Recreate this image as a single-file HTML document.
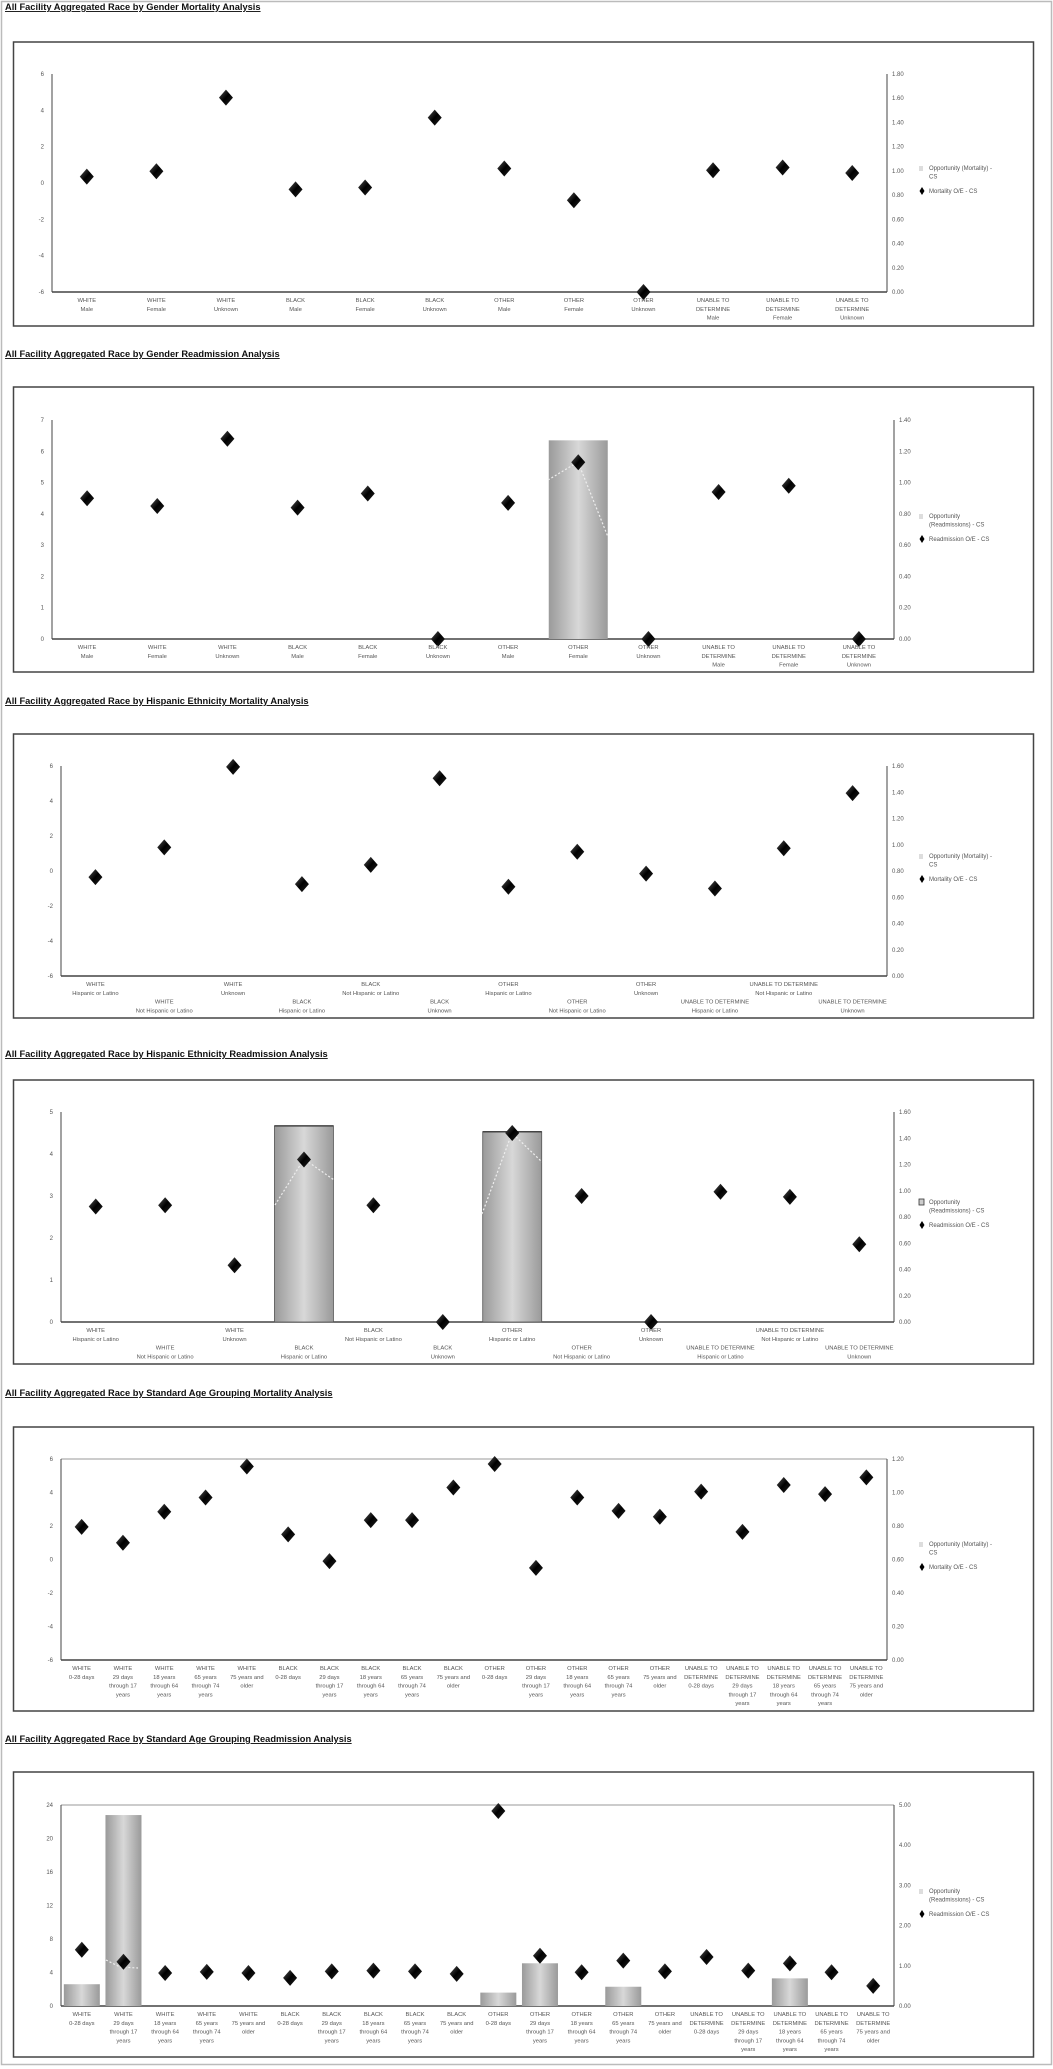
<!DOCTYPE html>
<html><head><meta charset="utf-8"><style>
html,body{margin:0;padding:0;background:#fff;}
svg{display:block;}
</style></head><body>
<svg id="s" width="1053" height="2069" xmlns="http://www.w3.org/2000/svg" font-family="Liberation Sans, sans-serif">
<defs>
<linearGradient id="bg" x1="0" x2="1" y1="0" y2="0">
<stop offset="0" stop-color="#9a9a9a"/><stop offset="0.5" stop-color="#d8d8d8"/><stop offset="1" stop-color="#9a9a9a"/>
</linearGradient>
<linearGradient id="dg" x1="0" x2="1" y1="0" y2="1">
<stop offset="0" stop-color="#555"/><stop offset="0.5" stop-color="#000"/><stop offset="1" stop-color="#222"/>
</linearGradient>
</defs>
<rect x="1.5" y="1.5" width="1050" height="2063" fill="none" stroke="#bbb" stroke-width="1.5"/>
</svg>
<script>
var S=document.getElementById('s');var NS='http://www.w3.org/2000/svg';
function el(t,a,txt){var e=document.createElementNS(NS,t);for(var k in a)e.setAttribute(k,a[k]);if(txt!==undefined)e.textContent=txt;S.appendChild(e);return e;}
function chart(c){
 el('text',{x:5,y:c.ty,'font-size':'9.3','font-weight':'bold','text-decoration':'underline',fill:'#111'},c.title);
 el('rect',{x:13.5,y:c.by,width:1020,height:c.bh,fill:'#fff',stroke:'#444','stroke-width':1.5});
 var L=c.L,R=c.R,T=c.T,B=c.B;
 if(c.topline)el('line',{x1:L,x2:R,y1:T,y2:T,stroke:'#ccc','stroke-width':2});
 el('line',{x1:L,x2:L,y1:T,y2:B,stroke:'#444','stroke-width':1});
 el('line',{x1:R,x2:R,y1:T,y2:B,stroke:'#444','stroke-width':1});
 el('line',{x1:L,x2:R,y1:B,y2:B,stroke:'#444','stroke-width':1.5});
 // left ticks
 for(var v=c.lmin;v<=c.lmax+1e-9;v+=c.lstep){var y=B-(v-c.lmin)/(c.lmax-c.lmin)*(B-T);
  el('text',{x:L-8,y:y+2,'font-size':'6','text-anchor':'end',fill:'#555'},String(v));}
 for(var v=0;v<=c.rmax+1e-9;v+=c.rstep){var y=B-v/c.rmax*(B-T);
  el('text',{x:R+5,y:y+2,'font-size':'6',fill:'#555'},v.toFixed(2));}
 var n=c.labels.length,w=(R-L)/n;
 function cx(i){return L+w*(i+0.5);}
 // bars
 (c.bars||[]).forEach(function(b){var x=cx(b[0]),bw=c.bw||w*0.86,y=B-(b[1]-c.lmin)/(c.lmax-c.lmin)*(B-T);
  el('rect',{x:x-bw/2,y:y,width:bw,height:B-y,fill:'url(#bg)',stroke:c.bstroke||'none','stroke-width':0.8});
  if(c.bstroke)el('line',{x1:x-bw/2,x2:x+bw/2,y1:y,y2:y,stroke:'#444','stroke-width':1.5});});
 (c.dash||[]).forEach(function(d){el('polyline',{points:d,fill:'none',stroke:'#eee','stroke-width':1.2,'stroke-dasharray':'2,2'});});
 // diamonds
 c.vals.forEach(function(v,i){var x=cx(i),y=B-(v-c.lmin)/(c.lmax-c.lmin)*(B-T);
  el('path',{d:'M'+x+' '+(y-8)+'L'+(x+7)+' '+y+'L'+x+' '+(y+8)+'L'+(x-7)+' '+y+'Z',fill:'url(#dg)'});});
 // labels
 c.labels.forEach(function(lb,i){var off=(c.stagger&&i%2==1)?2:0;
  lb.forEach(function(t,j){el('text',{x:cx(i),y:B+10+(j+off)*8.8,'font-size':'5.8','text-anchor':'middle',fill:'#555'},t);});});
 // legend
 var ly=c.ly;
 if(c.boxleg)el('rect',{x:919,y:ly-5,width:5,height:6,fill:'#ccc',stroke:'#333','stroke-width':0.8});
 else{el('line',{x1:920,x2:920,y1:ly-4,y2:ly+1,stroke:'#aaa','stroke-width':0.8});el('line',{x1:922,x2:922,y1:ly-4,y2:ly+1,stroke:'#aaa','stroke-width':0.8});}
 el('text',{x:929,y:ly,'font-size':'6',fill:'#555'},c.leg1[0]);
 el('text',{x:929,y:ly+8.5,'font-size':'6',fill:'#555'},c.leg1[1]);
 el('path',{d:'M922 '+(ly+17)+'l2.5 4l-2.5 4l-2.5 -4z',fill:'#000'});
 el('text',{x:929,y:ly+23,'font-size':'6',fill:'#555'},c.leg2);
}
var G=[['WHITE','Male'],['WHITE','Female'],['WHITE','Unknown'],['BLACK','Male'],['BLACK','Female'],['BLACK','Unknown'],['OTHER','Male'],['OTHER','Female'],['OTHER','Unknown'],['UNABLE TO','DETERMINE','Male'],['UNABLE TO','DETERMINE','Female'],['UNABLE TO','DETERMINE','Unknown']];
var H=[];['WHITE','BLACK','OTHER','UNABLE TO DETERMINE'].forEach(function(r){['Hispanic or Latino','Not Hispanic or Latino','Unknown'].forEach(function(e){H.push([r,e]);});});
var A=[];['WHITE','BLACK','OTHER','UNABLE TO|DETERMINE'].forEach(function(r){var rr=r.split('|');
 [['0-28 days'],['29 days','through 17','years'],['18 years','through 64','years'],['65 years','through 74','years'],['75 years and','older']].forEach(function(a){A.push(rr.concat(a));});});
chart({title:'All Facility Aggregated Race by Gender Mortality Analysis',ty:10,by:42,bh:284,L:52,R:887,T:74,B:292,lmin:-6,lmax:6,lstep:2,rmax:1.8,rstep:0.2,labels:G,
 vals:[0.35,0.65,4.7,-0.35,-0.25,3.6,0.8,-0.95,-6,0.7,0.85,0.55],ly:170,leg1:['Opportunity (Mortality) -','CS'],leg2:'Mortality O/E - CS'});
chart({title:'All Facility Aggregated Race by Gender Readmission Analysis',ty:357,by:387,bh:285,L:52,R:894,T:420,B:639,lmin:0,lmax:7,lstep:1,rmax:1.4,rstep:0.2,labels:G,
 vals:[4.5,4.25,6.4,4.2,4.65,0,4.35,5.65,0,4.7,4.9,0],bars:[[7,6.35]],bw:59,dash:['548,480 578,462 608,537'],ly:518,leg1:['Opportunity','(Readmissions) - CS'],leg2:'Readmission O/E - CS'});
chart({title:'All Facility Aggregated Race by Hispanic Ethnicity Mortality Analysis',ty:704,by:734,bh:284,L:61,R:887,T:766,B:976,lmin:-6,lmax:6,lstep:2,rmax:1.6,rstep:0.2,labels:H,stagger:true,
 vals:[-0.35,1.35,5.95,-0.75,0.35,5.3,-0.9,1.1,-0.15,-1.0,1.3,4.45],ly:858,leg1:['Opportunity (Mortality) -','CS'],leg2:'Mortality O/E - CS'});
chart({title:'All Facility Aggregated Race by Hispanic Ethnicity Readmission Analysis',ty:1057,by:1080,bh:284,L:61,R:894,T:1112,B:1322,lmin:0,lmax:5,lstep:1,rmax:1.6,rstep:0.2,labels:H,stagger:true,
 vals:[2.75,2.78,1.35,3.87,2.78,0,4.5,3.0,0,3.1,2.98,1.85],bars:[[3,4.67],[6,4.53]],bw:59,bstroke:'#555',dash:['275,1205 304,1159 334,1180','482,1214 512,1133 542,1162'],ly:1204,leg1:['Opportunity','(Readmissions) - CS'],leg2:'Readmission O/E - CS',boxleg:true});
chart({title:'All Facility Aggregated Race by Standard Age Grouping Mortality Analysis',ty:1396,by:1427,bh:284,L:61,R:887,T:1459,B:1660,lmin:-6,lmax:6,lstep:2,rmax:1.2,rstep:0.2,labels:A,topline:true,
 vals:[1.95,1.0,2.85,3.7,5.55,1.5,-0.1,2.35,2.35,4.3,5.7,-0.5,3.7,2.9,2.55,4.05,1.65,4.45,3.9,4.9],ly:1546,leg1:['Opportunity (Mortality) -','CS'],leg2:'Mortality O/E - CS'});
var c6={title:'All Facility Aggregated Race by Standard Age Grouping Readmission Analysis',ty:1742,by:1772,bh:285,L:61,R:894,T:1805,B:2006,lmin:0,lmax:24,lstep:4,rmax:5,rstep:1,labels:A,topline:true,
 vals:[1.4,1.1,0.82,0.85,0.82,0.7,0.86,0.88,0.86,0.8,4.85,1.25,0.84,1.13,0.86,1.22,0.88,1.06,0.84,0.5].map(function(v){return v*24/5;}),
 bars:[[0,2.6],[1,22.8],[10,1.6],[11,5.1],[13,2.3],[17,3.3]],bw:36,dash:['106,1960 120,1967 138,1968'],ly:1893,leg1:['Opportunity','(Readmissions) - CS'],leg2:'Readmission O/E - CS'};
chart(c6);
</script>
</body></html>
